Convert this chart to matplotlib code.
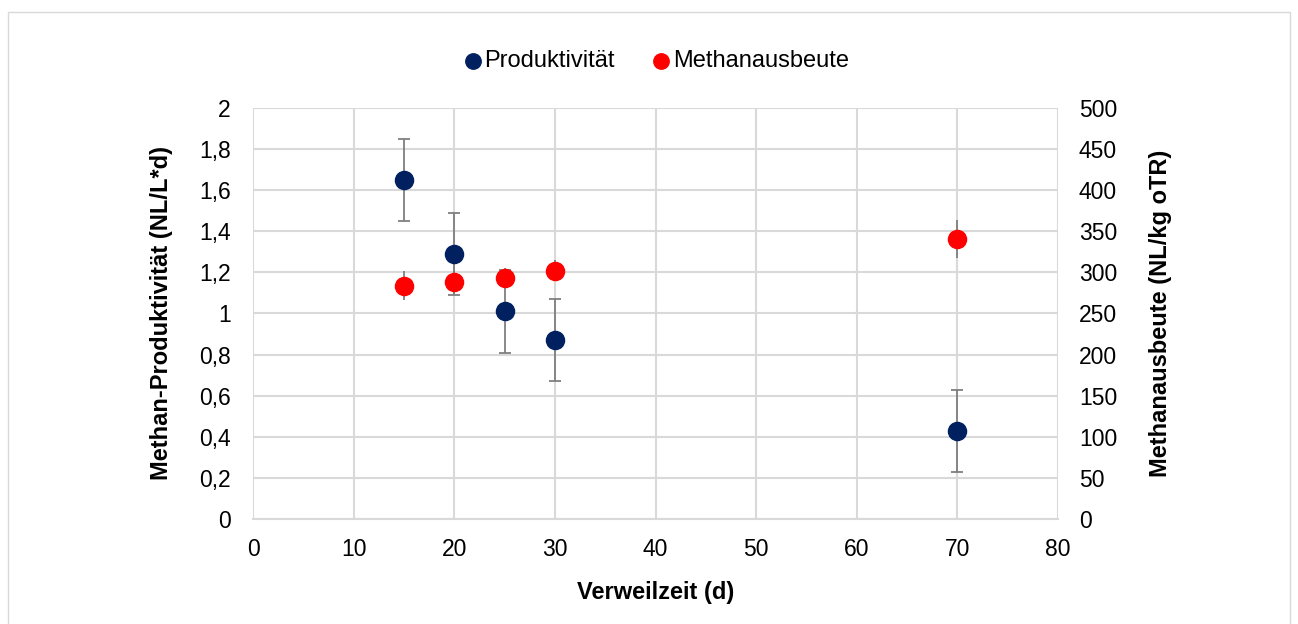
import matplotlib.pyplot as plt
from matplotlib.ticker import FuncFormatter, MultipleLocator
from matplotlib.patches import Rectangle

plt.rcParams['font.family'] = ['Liberation Sans', 'DejaVu Sans']

# Verweilzeit in Tagen
verweilzeit = [15, 20, 25, 30, 70]
# Methan-Produktivität (NL/L*d) mit Standardabweichung
produktivitaet = [1.65, 1.29, 1.01, 0.87, 0.43]
produktivitaet_err = [0.2, 0.2, 0.2, 0.2, 0.2]
# Methanausbeute (NL/kg oTR) mit Standardabweichung
ausbeute = [284, 288, 293, 302, 341]
ausbeute_err = [18, 15, 12, 13, 23]

blau = '#002060'
rot = '#ff0000'
grau = '#7f7f7f'

def komma(v, pos):
    s = f'{v:g}'
    return s.replace('.', ',')

fig = plt.figure(figsize=(12.98, 6.24), dpi=100)
ax = fig.add_axes([253 / 1298, 1 - 519 / 624, (1058 - 253) / 1298, (519 - 108) / 624])
ax2 = ax.twinx()

# Rahmen um das Diagramm
fig.patches.append(Rectangle((8 / 1298, -0.01), 1282 / 1298, 1 - 12 / 624 + 0.01,
                             transform=fig.transFigure, fill=False,
                             edgecolor='#d9d9d9', linewidth=1))

ax.errorbar(verweilzeit, produktivitaet, yerr=produktivitaet_err, fmt='none',
            ecolor=grau, elinewidth=1.3, capsize=4.5, capthick=1.3, zorder=2)
ax2.errorbar(verweilzeit, ausbeute, yerr=ausbeute_err, fmt='none',
             ecolor=grau, elinewidth=1.3, capsize=0, zorder=2)
p1 = ax.scatter(verweilzeit, produktivitaet, s=170, color=blau, zorder=3, label='Produktivität')
p2 = ax2.scatter(verweilzeit, ausbeute, s=170, color=rot, zorder=3, label='Methanausbeute')

ax.set_xlim(0, 80)
ax.set_ylim(0, 2)
ax2.set_ylim(0, 500)
ax.xaxis.set_major_locator(MultipleLocator(10))
ax.yaxis.set_major_locator(MultipleLocator(0.2))
ax2.yaxis.set_major_locator(MultipleLocator(50))
ax.yaxis.set_major_formatter(FuncFormatter(komma))

ax.grid(True, color='#d9d9d9', linewidth=1.5)
ax.set_axisbelow(True)
for a in (ax, ax2):
    for sp in a.spines.values():
        sp.set_visible(False)
    a.tick_params(length=0, labelsize=16.5, colors='#000000')
ax.tick_params(axis='y', pad=16)
ax.tick_params(axis='x', pad=14)
ax2.tick_params(axis='y', pad=15)
ax.spines['bottom'].set_visible(True)
ax.spines['bottom'].set_color('#d9d9d9')
ax.spines['bottom'].set_linewidth(1.5)

ax.set_xlabel('Verweilzeit (d)', fontsize=17, fontweight='bold', labelpad=14)
ax.set_ylabel('Methan-Produktivität (NL/L*d)', fontsize=17, fontweight='bold', labelpad=19)
ax2.set_ylabel('Methanausbeute (NL/kg oTR)', fontsize=17, fontweight='bold', labelpad=23)

fig.legend(handles=[p1, p2], loc='center', bbox_to_anchor=(0.5, 1 - 61 / 624), ncol=2,
           frameon=False, fontsize=17, handletextpad=-0.5, columnspacing=0.95,
           markerscale=0.85)

fig.savefig('out.png', dpi=100)
